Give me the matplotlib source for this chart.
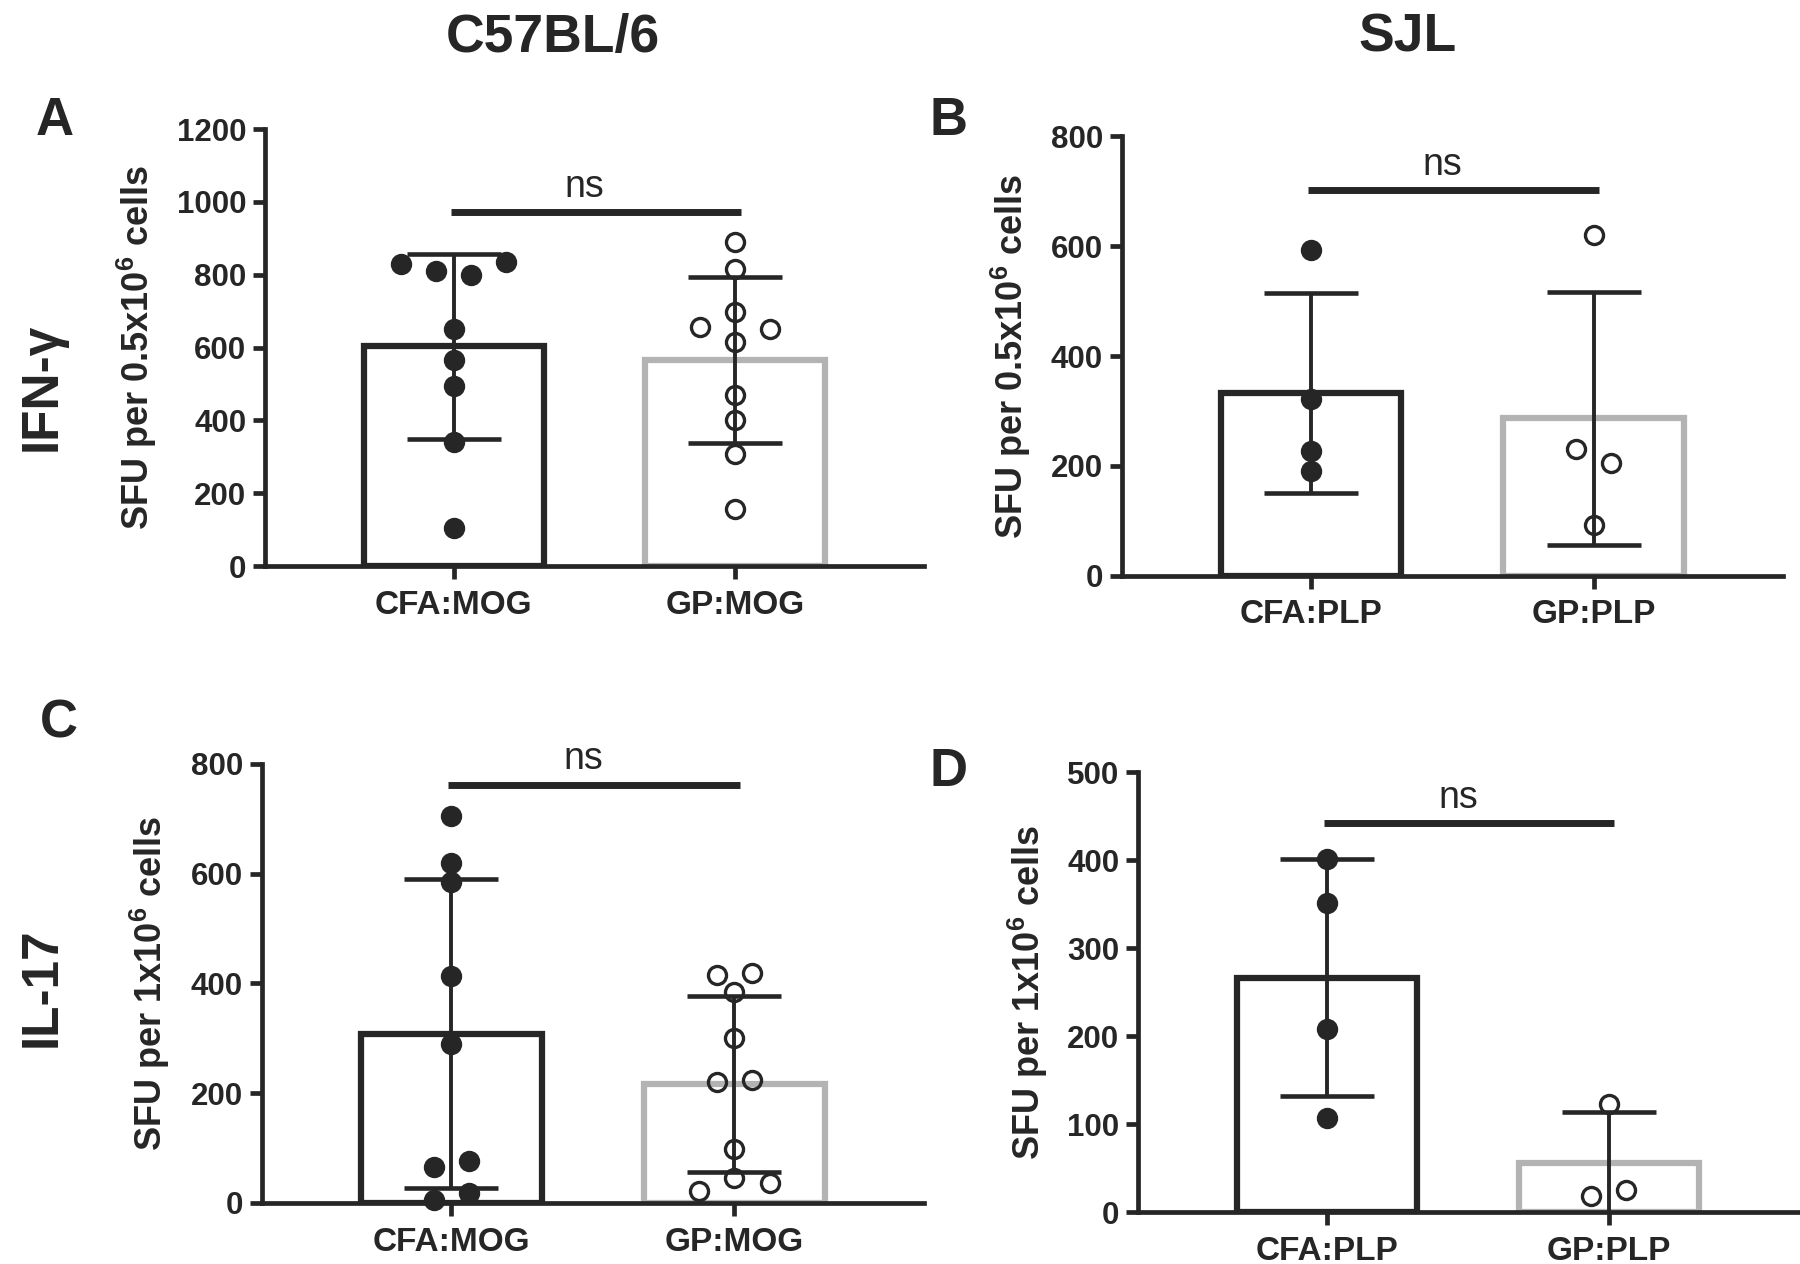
import numpy as np
import matplotlib
matplotlib.use("Agg")
import matplotlib.pyplot as plt

plt.rcParams['font.family'] = ['Liberation Sans', 'DejaVu Sans']
plt.rcParams['mathtext.default'] = 'regular'

DARK = '#262626'
GRAY = '#b3b3b3'

# ---------------- data ----------------
strain_titles = ['C57BL/6', 'SJL']
row_labels = ['IFN-γ', 'IL-17']
panel_letters = ['A', 'B', 'C', 'D']

groups_mog = ['CFA:MOG', 'GP:MOG']
groups_plp = ['CFA:PLP', 'GP:PLP']

# IFN-gamma, C57BL/6 (panel A)
a_cfa = [800, 811, 834, 831, 651, 565, 495, 342, 105]
a_gp = [890, 815, 697, 656, 650, 615, 469, 401, 307, 158]
# IFN-gamma, SJL (panel B)
b_cfa = [593, 321, 228, 191]
b_gp = [620, 205, 231, 92]
# IL-17, C57BL/6 (panel C)
c_cfa = [705, 619, 585, 413, 290, 76, 65, 18, 6]
c_gp = [419, 416, 385, 300, 224, 221, 99, 46, 22, 36]
# IL-17, SJL (panel D)
d_cfa = [401, 351, 208, 107]
d_gp = [123, 25, 18]

a_yticks = [0, 200, 400, 600, 800, 1000, 1200]
b_yticks = [0, 200, 400, 600, 800]
c_yticks = [0, 200, 400, 600, 800]
d_yticks = [0, 100, 200, 300, 400, 500]

ylabel_half = 'SFU per 0.5x10$^{6}$ cells'
ylabel_one = 'SFU per 1x10$^{6}$ cells'

sig_text = 'ns'
a_sig_y, b_sig_y, c_sig_y, d_sig_y = 973, 702, 762, 442

# ---------------- figure ----------------
fig = plt.figure(figsize=(18, 12.64), dpi=100)
fig.patch.set_facecolor('white')

panels = [
    dict(pos=[0.1472, 0.5522, 0.3661, 0.3456], data=(a_cfa, a_gp), groups=groups_mog,
         yticks=a_yticks, ylabel=ylabel_half, sig=a_sig_y, lab_x=-0.161),
    dict(pos=[0.6231, 0.5444, 0.3675, 0.3478], data=(b_cfa, b_gp), groups=groups_plp,
         yticks=b_yticks, ylabel=ylabel_half, sig=b_sig_y, lab_x=-0.134),
    dict(pos=[0.1453, 0.0483, 0.3681, 0.3475], data=(c_cfa, c_gp), groups=groups_mog,
         yticks=c_yticks, ylabel=ylabel_one, sig=c_sig_y, lab_x=-0.135),
    dict(pos=[0.6322, 0.0411, 0.3665, 0.3478], data=(d_cfa, d_gp), groups=groups_plp,
         yticks=d_yticks, ylabel=ylabel_one, sig=d_sig_y, lab_x=-0.133),
]


def swarm_offsets(ax, values, step=0.125, diam_px=18.0):
    """Simple beeswarm: place points at centre if free, else step sideways; then
    centre every cluster of mutually colliding points."""
    vals = np.asarray(values, dtype=float)
    ys = ax.transData.transform(np.column_stack([np.zeros(len(vals)), vals]))[:, 1]
    parent = list(range(len(vals)))

    def find(i):
        while parent[i] != i:
            parent[i] = parent[parent[i]]
            i = parent[i]
        return i

    def union(i, j):
        ri, rj = find(i), find(j)
        if ri != rj:
            parent[ri] = rj

    cands = [0]
    for m in range(1, 30):
        cands += [-m, m]
    offs = []
    for i, y in enumerate(ys):
        for c in cands:
            hits = [j for j in range(i) if offs[j] == c and abs(ys[j] - y) < diam_px]
            for j in hits:
                union(i, j)
            if not hits:
                offs.append(c)
                break
    offs = np.array(offs, dtype=float)
    roots = np.array([find(i) for i in range(len(vals))])
    out = offs.copy()
    for r in np.unique(roots):
        m = roots == r
        out[m] = offs[m] - offs[m].mean()
    return out * step


for p in panels:
    ax = fig.add_axes(p['pos'])
    ymax = p['yticks'][-1]
    ax.set_xlim(-0.67, 1.67)
    ax.set_ylim(0, ymax)
    for s in ['top', 'right']:
        ax.spines[s].set_visible(False)
    for s in ['left', 'bottom']:
        ax.spines[s].set_linewidth(3.4)
        ax.spines[s].set_color(DARK)

    colors = [DARK, GRAY]
    for gi, vals in enumerate(p['data']):
        v = np.asarray(vals, dtype=float)
        mean = v.mean()
        sd = v.std(ddof=1)
        ax.bar(gi, mean, width=0.64, facecolor='white', edgecolor=colors[gi],
               linewidth=4.5, zorder=2)
        ax.errorbar(gi, mean, yerr=sd, fmt='none', ecolor=DARK, elinewidth=2.8,
                    capsize=34, capthick=3.3, zorder=3)
        xs = gi + swarm_offsets(ax, v)
        ax.plot(xs, v, linestyle='none', marker='o', markersize=13,
                markerfacecolor=DARK if gi == 0 else 'none',
                markeredgecolor=DARK, markeredgewidth=2.4, zorder=4, clip_on=False)

    # significance bar
    ax.plot([-0.01, 1.02], [p['sig'], p['sig']], color=DARK, lw=5,
            solid_capstyle='butt', zorder=3, clip_on=False)
    ax.annotate(sig_text, xy=(0.465, p['sig']), xytext=(0, 11),
                textcoords='offset points', ha='center', va='baseline',
                fontsize=27, color=DARK, annotation_clip=False)

    ax.set_xticks([0, 1])
    ax.set_xticklabels(p['groups'], fontsize=24, fontweight='bold', color=DARK)
    ax.set_yticks(p['yticks'])
    ax.set_yticklabels([str(t) for t in p['yticks']], fontsize=22.5,
                       fontweight='bold', color=DARK)
    ax.tick_params(axis='x', direction='out', length=9, width=3.4, color=DARK, pad=8)
    ax.tick_params(axis='y', direction='out', length=9, width=3.4, color=DARK, pad=4.5)

    ax.set_ylabel(p['ylabel'], fontsize=26, fontweight='bold', color=DARK)
    ax.yaxis.set_label_coords(p['lab_x'], 0.5)

# titles, letters, row labels
fig.text(0.3072, 0.9589, strain_titles[0], ha='center', va='baseline',
         fontsize=38.5, fontweight='bold', color=DARK)
fig.text(0.7822, 0.9589, strain_titles[1], ha='center', va='baseline',
         fontsize=38.5, fontweight='bold', color=DARK)

letter_pos = [(0.0306, 0.8932), (0.5272, 0.8932), (0.0328, 0.4169), (0.5272, 0.3781)]
for (lx, ly), letter in zip(letter_pos, panel_letters):
    fig.text(lx, ly, letter, ha='center', va='baseline', fontsize=38,
             fontweight='bold', color=DARK)

fig.text(0.0233, 0.6940, row_labels[0], ha='center', va='center', rotation=90,
         fontsize=37, fontweight='bold', color=DARK)
fig.text(0.0233, 0.2191, row_labels[1], ha='center', va='center', rotation=90,
         fontsize=37, fontweight='bold', color=DARK)

fig.savefig('out.png', dpi=100, facecolor='white')
